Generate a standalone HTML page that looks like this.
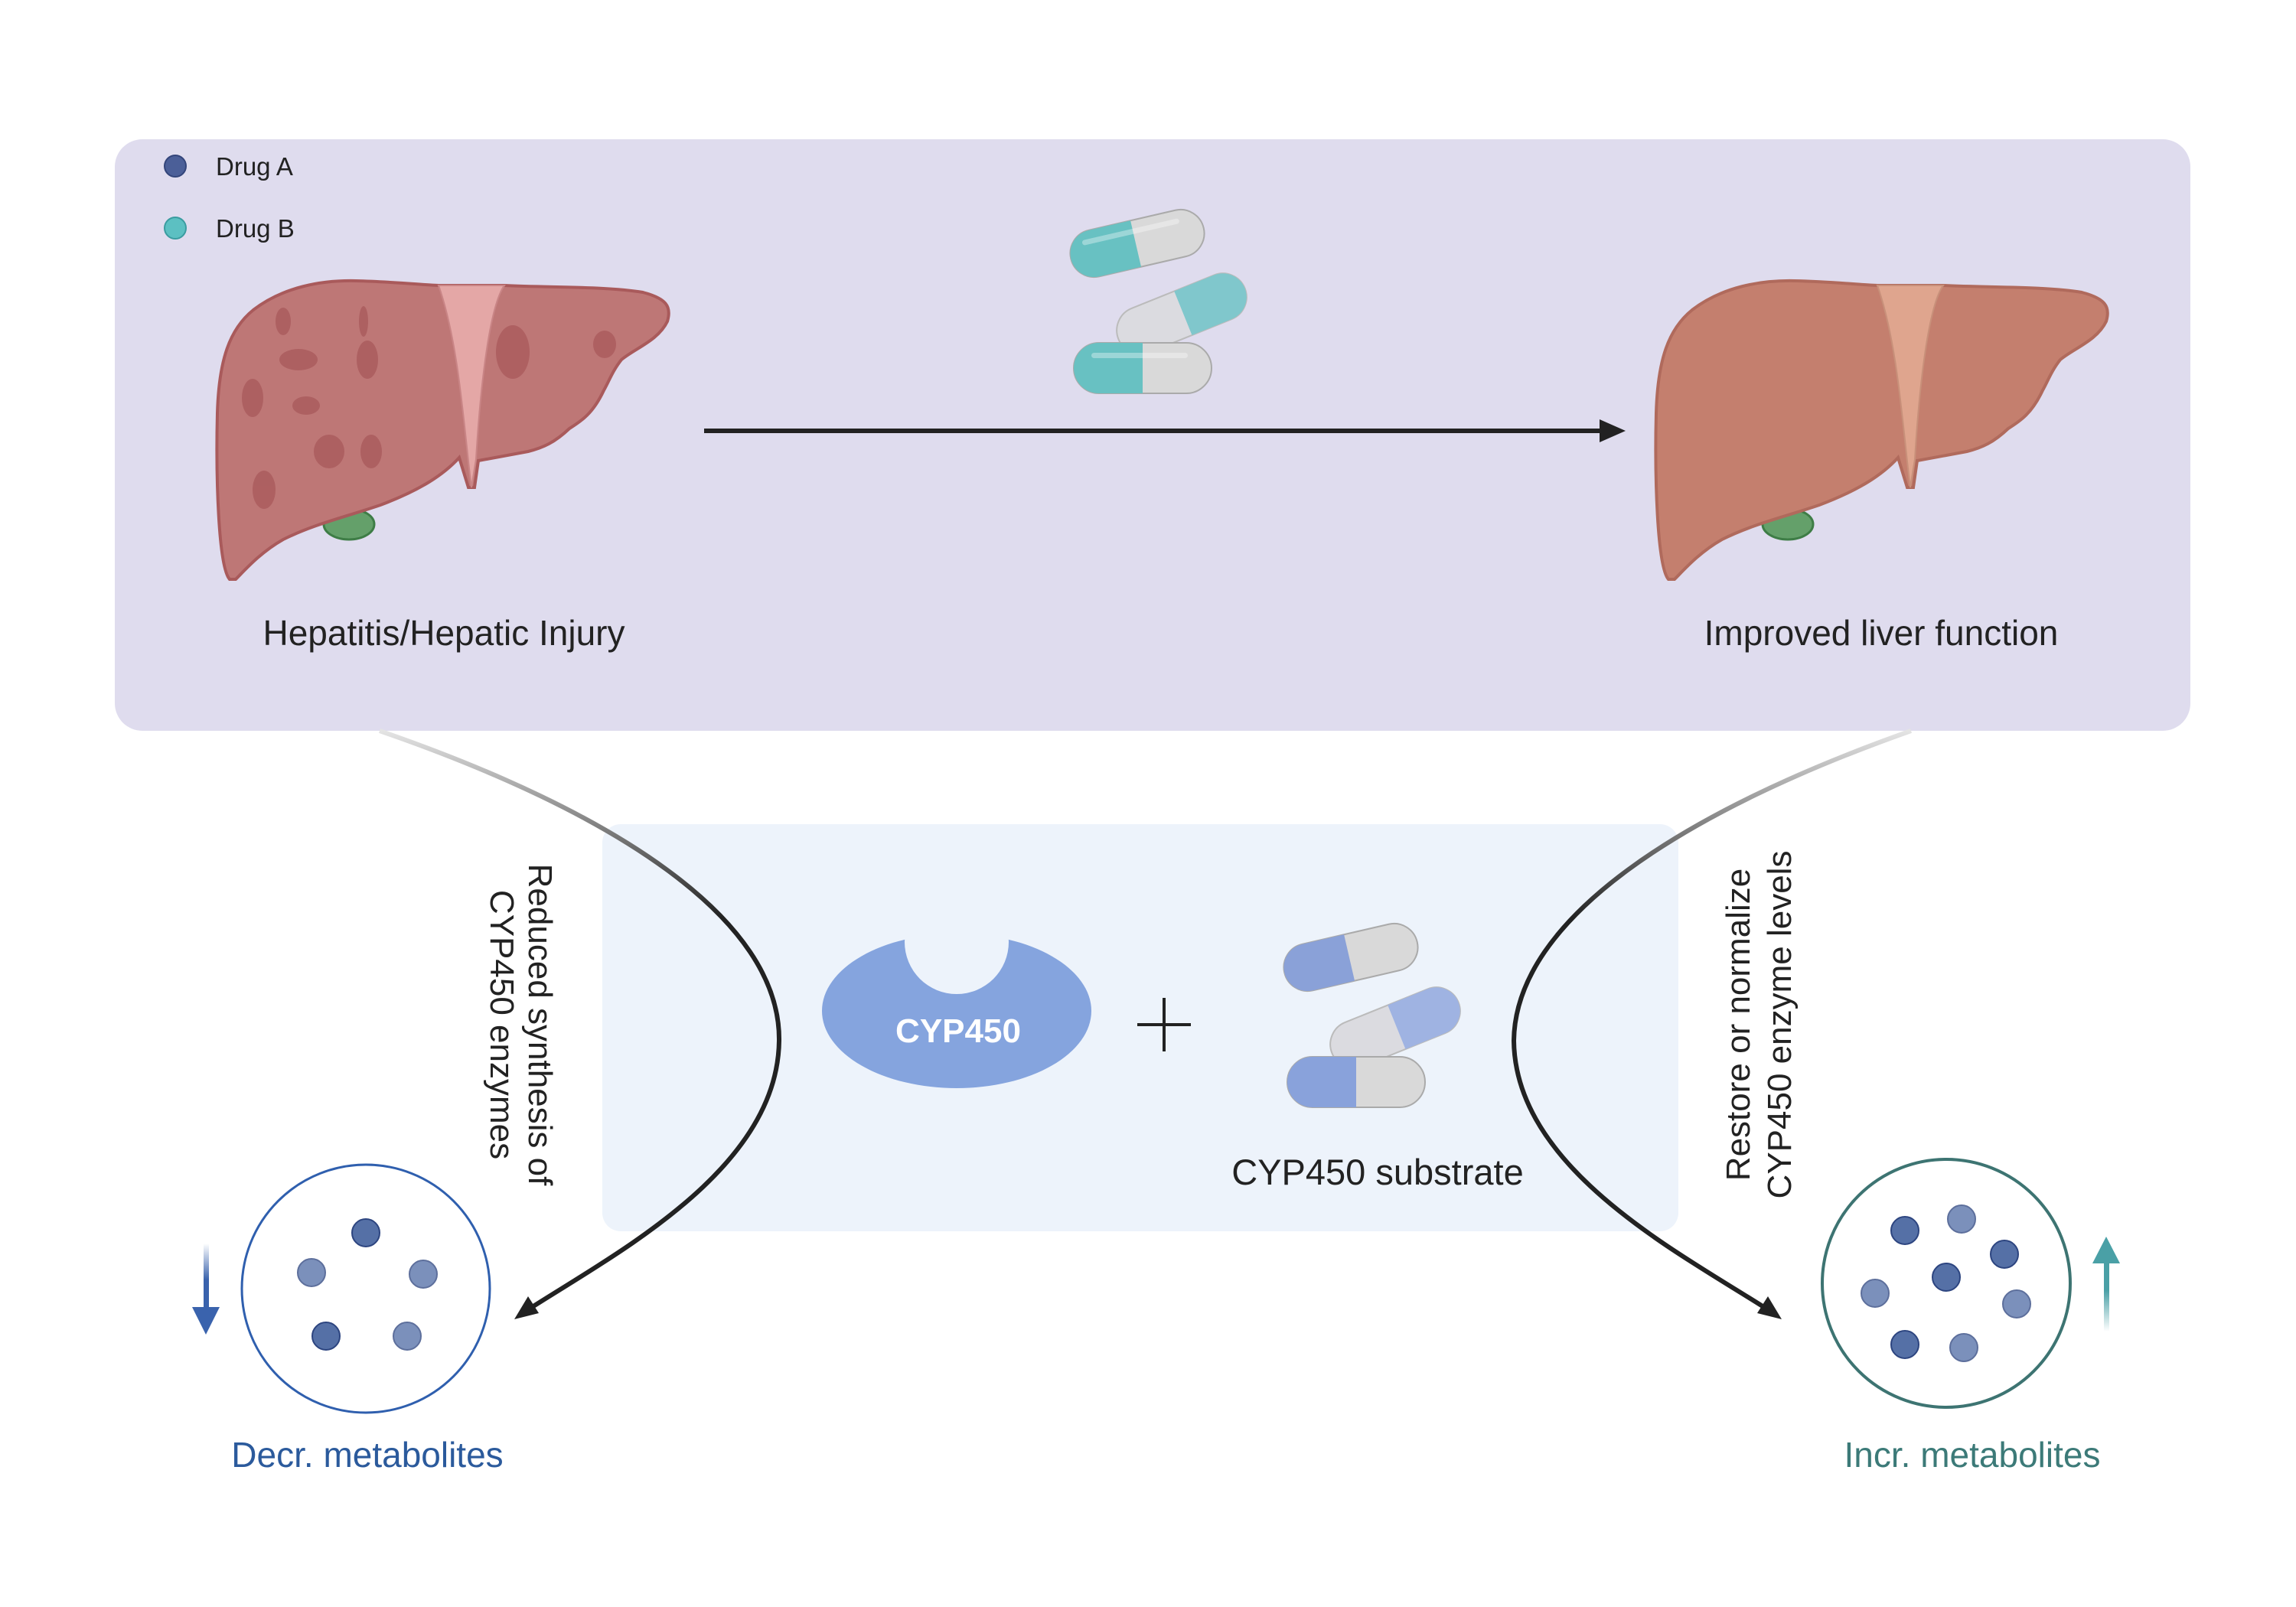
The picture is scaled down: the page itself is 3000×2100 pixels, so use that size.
<!DOCTYPE html>
<html><head><meta charset="utf-8"><style>
html,body{margin:0;padding:0;background:#fff;}
svg{display:block;}
text{font-family:"Liberation Sans",sans-serif;}
</style></head><body>
<svg width="3000" height="2100" viewBox="0 0 3000 2100" xmlns="http://www.w3.org/2000/svg">
<defs>
<linearGradient id="gl" gradientUnits="userSpaceOnUse" x1="0" y1="955" x2="0" y2="1200">
<stop offset="0" stop-color="#e4e4e4"/><stop offset="1" stop-color="#222"/></linearGradient>
<linearGradient id="ua" gradientUnits="userSpaceOnUse" x1="0" y1="1740" x2="0" y2="1650">
<stop offset="0" stop-color="#4aa0a6" stop-opacity="0"/><stop offset="0.6" stop-color="#4aa0a6"/></linearGradient>
<linearGradient id="da" gradientUnits="userSpaceOnUse" x1="0" y1="1625" x2="0" y2="1720">
<stop offset="0" stop-color="#3a63ad" stop-opacity="0"/><stop offset="0.5" stop-color="#3a63ad"/></linearGradient>
<path id="liver" d="M300,757 C285,740 282,620 284,540 C286,470 300,430 331,405 C370,375 420,366 465,367 C510,368 550,372 573,373 L659,373 C720,376 790,374 840,382 C870,390 878,400 872,420 C860,445 830,455 812,470 C800,485 795,500 789,510 C775,540 760,550 744,560 C725,578 710,585 690,590 L625,602 L620,637 L612,637 L600,598 C580,620 550,640 497,660 C450,676 410,685 370,705 C340,722 320,745 308,757 Z"/>
<g id="pills">
<g transform="translate(1486,318) rotate(-13)">
<rect x="-89" y="-31" width="178" height="62" rx="31" fill="#d9d9d9" stroke="#aaa" stroke-width="2"/>
<path d="M-2,-31 L-58,-31 A31,31 0 0 0 -58,31 L-2,31 Z" fill="#68c1c2"/>
<rect x="-70" y="-20" width="130" height="7" rx="3.5" fill="#fff" opacity="0.35"/>
</g>
<g transform="translate(1544,410) rotate(-22)">
<rect x="-89" y="-31" width="178" height="62" rx="31" fill="#dbdbe0" stroke="#bbb" stroke-width="2"/>
<path d="M2,-31 L58,-31 A31,31 0 0 1 58,31 L2,31 Z" fill="#80c7cc"/>
</g>
<g transform="translate(1493,481)">
<rect x="-90" y="-33" width="180" height="66" rx="33" fill="#d9d9d9" stroke="#aaa" stroke-width="2"/>
<path d="M0,-33 L-57,-33 A33,33 0 0 0 -57,33 L0,33 Z" fill="#68c1c2"/>
<rect x="-67" y="-20" width="126" height="7" rx="3.5" fill="#fff" opacity="0.35"/>
</g>
</g>
</defs>

<rect x="150" y="182" width="2712" height="773" rx="36" fill="#dfdcee"/>
<circle cx="229" cy="217" r="14" fill="#4b5f98" stroke="#33457a" stroke-width="2"/>
<circle cx="229" cy="298" r="14" fill="#5cc0c2" stroke="#3a9ca0" stroke-width="2"/>
<text x="282" y="229" font-size="33" fill="#222">Drug A</text>
<text x="282" y="310" font-size="33" fill="#222">Drug B</text>

<ellipse cx="456" cy="685" rx="33" ry="20" fill="#64a06a" stroke="#3e7d46" stroke-width="3"/>
<use href="#liver" fill="#be7776" stroke="#a95a5b" stroke-width="4"/>
<g fill="#ab5c5e" opacity="0.85">
<ellipse cx="390" cy="470" rx="25" ry="14"/><ellipse cx="330" cy="520" rx="14" ry="25"/>
<ellipse cx="400" cy="530" rx="18" ry="12"/><ellipse cx="480" cy="470" rx="14" ry="25"/>
<ellipse cx="430" cy="590" rx="20" ry="22"/><ellipse cx="345" cy="640" rx="15" ry="25"/>
<ellipse cx="485" cy="590" rx="14" ry="22"/><ellipse cx="670" cy="460" rx="22" ry="35"/>
<ellipse cx="790" cy="450" rx="15" ry="18"/><ellipse cx="370" cy="420" rx="10" ry="18"/>
<ellipse cx="475" cy="420" rx="6" ry="20"/>
</g>
<path d="M573,373 L659,373 C640,400 628,500 622,600 L616,637 C606,560 600,450 573,373 Z" fill="#e4a7a6" stroke="#c98586" stroke-width="2"/>

<g transform="translate(1880,0)">
<ellipse cx="456" cy="685" rx="33" ry="20" fill="#64a06a" stroke="#3e7d46" stroke-width="3"/>
<use href="#liver" fill="#c47f6e" stroke="#b06a5c" stroke-width="4"/>
<path d="M573,373 L659,373 C640,400 628,500 622,600 L616,637 C606,560 600,450 573,373 Z" fill="#dfa58e" stroke="#c8907a" stroke-width="2"/>
</g>

<text x="580" y="843" font-size="46" fill="#222" text-anchor="middle">Hepatitis/Hepatic Injury</text>
<text x="2458" y="843" font-size="46" fill="#222" text-anchor="middle">Improved liver function</text>

<line x1="920" y1="563" x2="2090" y2="563" stroke="#222" stroke-width="6"/>
<path d="M2090,548 L2124,563 L2090,578 Z" fill="#222"/>

<use href="#pills"/>

<rect x="787" y="1077" width="1406" height="532" rx="24" fill="#edf3fb"/>
<ellipse cx="1250" cy="1321" rx="176" ry="101" fill="#85a4de"/>
<circle cx="1250" cy="1231" r="68" fill="#edf3fb"/>
<text x="1252" y="1362" font-size="44" font-weight="bold" fill="#fff" text-anchor="middle">CYP450</text>
<line x1="1486" y1="1339" x2="1556" y2="1339" stroke="#222" stroke-width="4"/>
<line x1="1521" y1="1304" x2="1521" y2="1374" stroke="#222" stroke-width="4"/>
<g transform="translate(279,933)">
<g transform="translate(1486,318) rotate(-13)">
<rect x="-89" y="-31" width="178" height="62" rx="31" fill="#d9d9d9" stroke="#aaa" stroke-width="2"/>
<path d="M-2,-31 L-58,-31 A31,31 0 0 0 -58,31 L-2,31 Z" fill="#8aa1d8"/>
</g>
<g transform="translate(1544,410) rotate(-22)">
<rect x="-89" y="-31" width="178" height="62" rx="31" fill="#dbdbe0" stroke="#bbb" stroke-width="2"/>
<path d="M2,-31 L58,-31 A31,31 0 0 1 58,31 L2,31 Z" fill="#9fb3e2"/>
</g>
<g transform="translate(1493,481)">
<rect x="-90" y="-33" width="180" height="66" rx="33" fill="#d9d9d9" stroke="#aaa" stroke-width="2"/>
<path d="M0,-33 L-57,-33 A33,33 0 0 0 -57,33 L0,33 Z" fill="#89a2db"/>
</g>
</g>
<text x="1800" y="1548" font-size="47" fill="#222" text-anchor="middle">CYP450 substrate</text>

<path d="M496,955 C800,1060 1020,1200 1018,1360 C1016,1530 800,1640 686,1714" fill="none" stroke="url(#gl)" stroke-width="6"/>
<path d="M672,1724 L690,1694 L704,1716 Z" fill="#222"/>
<path d="M2497,955 C2200,1060 1980,1200 1978,1360 C1980,1530 2200,1640 2314,1714" fill="none" stroke="url(#gl)" stroke-width="6"/>
<path d="M2328,1724 L2310,1694 L2296,1716 Z" fill="#222"/>

<text transform="translate(691,1339) rotate(90)" font-size="44" fill="#222" text-anchor="middle">Reduced synthesis of</text>
<text transform="translate(641,1339) rotate(90)" font-size="44" fill="#222" text-anchor="middle">CYP450 enzymes</text>
<text transform="translate(2286,1339) rotate(-90)" font-size="44" fill="#222" text-anchor="middle">Restore or normalize</text>
<text transform="translate(2340,1339) rotate(-90)" font-size="44" fill="#222" text-anchor="middle">CYP450 enzyme levels</text>

<circle cx="478" cy="1684" r="162" fill="#fff" stroke="#2f5fae" stroke-width="3"/>
<g stroke-width="2">
<circle cx="478" cy="1611" r="18" fill="#5570a6" stroke="#2d4580"/>
<circle cx="407" cy="1663" r="18" fill="#7b90bb" stroke="#5d6f9c"/>
<circle cx="553" cy="1665" r="18" fill="#7b90bb" stroke="#5d6f9c"/>
<circle cx="426" cy="1746" r="18" fill="#5570a6" stroke="#2d4580"/>
<circle cx="532" cy="1746" r="18" fill="#7b90bb" stroke="#5d6f9c"/>
</g>
<rect x="266" y="1625" width="7" height="100" fill="url(#da)"/>
<path d="M251,1708 L287,1708 L269,1744 Z" fill="#3a63ad"/>
<text x="480" y="1917" font-size="46" fill="#2b5a9c" text-anchor="middle">Decr. metabolites</text>

<circle cx="2543" cy="1677" r="162" fill="#fff" stroke="#3d7472" stroke-width="4"/>
<g stroke-width="2">
<circle cx="2489" cy="1608" r="18" fill="#5570a6" stroke="#2d4580"/>
<circle cx="2563" cy="1593" r="18" fill="#7b90bb" stroke="#5d6f9c"/>
<circle cx="2619" cy="1639" r="18" fill="#5570a6" stroke="#2d4580"/>
<circle cx="2543" cy="1669" r="18" fill="#5570a6" stroke="#2d4580"/>
<circle cx="2450" cy="1690" r="18" fill="#7b90bb" stroke="#5d6f9c"/>
<circle cx="2635" cy="1704" r="18" fill="#7b90bb" stroke="#5d6f9c"/>
<circle cx="2489" cy="1757" r="18" fill="#5570a6" stroke="#2d4580"/>
<circle cx="2566" cy="1761" r="18" fill="#7b90bb" stroke="#5d6f9c"/>
</g>
<rect x="2749" y="1650" width="7" height="90" fill="url(#ua)"/>
<path d="M2734,1651 L2770,1651 L2752,1616 Z" fill="#4aa0a6"/>
<text x="2577" y="1917" font-size="46" fill="#3c7a78" text-anchor="middle">Incr. metabolites</text>
</svg>
</body></html>
